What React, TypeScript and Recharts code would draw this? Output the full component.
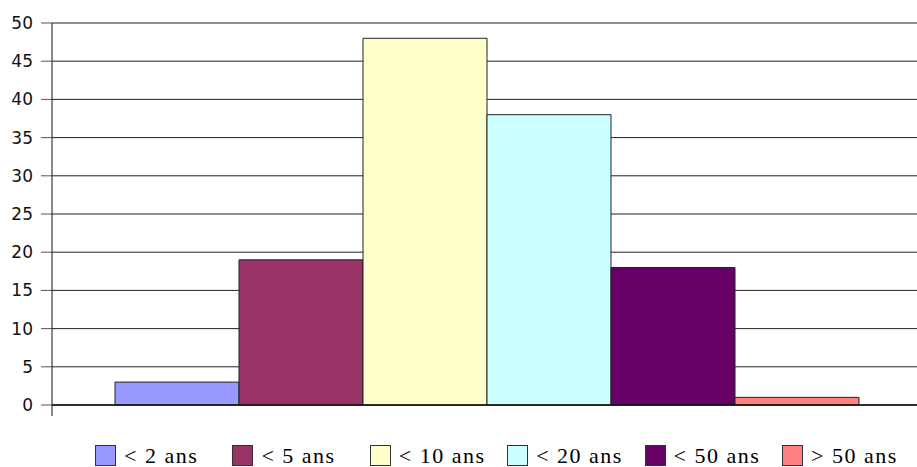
import React from 'react';
import { BarChart, Bar, XAxis, YAxis, CartesianGrid, Legend } from 'recharts';

const categories = ['Âge'];
const seriesNames = ['< 2 ans', '< 5 ans', '< 10 ans', '< 20 ans', '< 50 ans', '> 50 ans'];
const seriesValues = [3, 19, 48, 38, 18, 1];
const seriesColors = ['#9999FF', '#993366', '#FFFFCC', '#CCFFFF', '#660066', '#FF8080'];
const yTicks = [0, 5, 10, 15, 20, 25, 30, 35, 40, 45, 50];

const data = categories.map((c) => {
  const row: Record<string, string | number> = { cat: c };
  seriesNames.forEach((_, i) => {
    row['s' + i] = seriesValues[i];
  });
  return row;
});

const TICK_SIZE = 11;
const TICK_MARGIN = 8;

const YTick = (props: any) => {
  const { x, y, payload } = props;
  return (
    <g>
      <text
        x={x}
        y={y}
        dy="0.355em"
        textAnchor="end"
        fill="#111"
        fontSize={17}
        fontFamily='"DejaVu Sans", sans-serif'
      >
        {payload.value}
      </text>
      {payload.value === 0 && (
        <line
          x1={x + TICK_SIZE + TICK_MARGIN}
          x2={x + TICK_SIZE + TICK_MARGIN}
          y1={y}
          y2={y + TICK_SIZE}
          stroke="#111"
        />
      )}
    </g>
  );
};

const renderLegend = () => (
  <div style={{ height: 50, position: 'relative', width: 917 }}>
    {seriesNames.map((n, i) => (
      <div
        key={n}
        style={{
          position: 'absolute',
          left: 95 + i * 137.4,
          top: 28,
          display: 'flex',
          alignItems: 'center',
          height: 21,
          whiteSpace: 'nowrap',
        }}
      >
        <span
          style={{
            display: 'inline-block',
            width: 21,
            height: 21,
            background: seriesColors[i],
            border: '1px solid #333',
            boxSizing: 'border-box',
          }}
        />
        <span
          style={{
            marginLeft: 8,
            fontFamily: '"Liberation Serif", serif',
            fontSize: 22,
            letterSpacing: 1.5,
            lineHeight: '21px',
            color: '#000',
          }}
        >
          {n}
        </span>
      </div>
    ))}
  </div>
);

export default function App() {
  return (
    <div style={{ width: 917, height: 467, overflow: 'hidden', position: 'relative' }}>
      <style>{`body{margin:0}`}</style>
      <BarChart
        width={924}
        height={467}
        data={data}
        margin={{ top: 23, right: 0, bottom: 0, left: 0 }}
        barCategoryGap={63}
        barGap={0}
      >
        <CartesianGrid vertical={false} stroke="#222" strokeWidth={1} />
        <XAxis
          dataKey="cat"
          height={12}
          tick={false}
          tickLine={false}
          axisLine={{ stroke: '#111', strokeWidth: 1.5 }}
        />
        <YAxis
          width={52}
          domain={[0, 50]}
          ticks={yTicks}
          interval={0}
          tickSize={TICK_SIZE}
          tickMargin={TICK_MARGIN}
          axisLine={{ stroke: '#111' }}
          tickLine={{ stroke: '#555' }}
          tick={<YTick />}
        />
        <Legend
          verticalAlign="bottom"
          content={renderLegend}
          wrapperStyle={{ left: 0, bottom: 0, width: 917, height: 50 }}
        />
        {seriesNames.map((n, i) => (
          <Bar
            key={n}
            dataKey={'s' + i}
            name={n}
            fill={seriesColors[i]}
            stroke="#222"
            strokeWidth={1}
            isAnimationActive={false}
          />
        ))}
      </BarChart>
    </div>
  );
}
